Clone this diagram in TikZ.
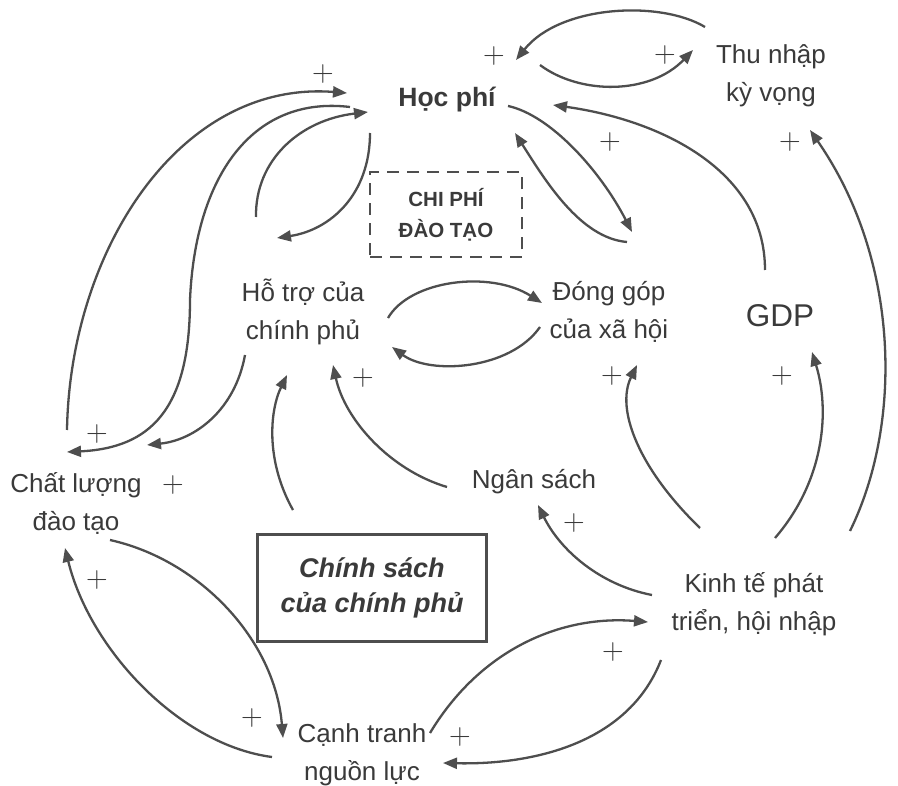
\documentclass[tikz,border=0pt]{standalone}
\usepackage{fontspec}
\setmainfont{Liberation Sans}
\newfontfamily\plusfont{Latin Modern Roman}
\usetikzlibrary{arrows.meta}
\definecolor{ink}{HTML}{3A3A3A}
\definecolor{wire}{HTML}{4E4E4E}
\begin{document}
\begin{tikzpicture}[x=1pt,y=-1pt,
  lbl/.style={text=ink, align=center, font=\fontsize{26}{38}\selectfont, inner sep=0pt},
  pl/.style={text=ink, inner sep=0pt, font=\plusfont\fontsize{30}{30}\selectfont},
  link/.style={draw=wire, line width=2.3pt, -{Triangle[length=14pt,width=11pt]}},
  dashbox/.style={draw=wire, line width=2pt, dash pattern=on 12pt off 8pt, minimum width=152pt, minimum height=85pt, inner sep=0pt},
  solidbox/.style={draw=wire, line width=2.4pt, minimum width=229pt, minimum height=107pt, inner sep=0pt}
]
\useasboundingbox[fill=white] (0,0) rectangle (898,786);

% nodes
\node[lbl, font=\bfseries\fontsize{26.5}{38}\selectfont] (hp) at (447,100) {Học phí};
\node[lbl] (thu) at (771,76) {Thu nhập\\kỳ vọng};
\node[dashbox, text=ink, align=center, font=\bfseries\fontsize{20.5}{31}\selectfont] (chi) at (446,215) {CHI PHÍ\\ĐÀO TẠO};
\node[lbl] (ho) at (303,312) {Hỗ trợ của\\chính phủ};
\node[lbl] (dg) at (609,312) {Đóng góp\\của xã hội};
\node[lbl, font=\fontsize{31.5}{38}\selectfont] (gdp) at (780,316) {GDP};
\node[lbl] (cl) at (76,503) {Chất lượng\\đào tạo};
\node[lbl] (ns) at (534,482) {Ngân sách};
\node[solidbox, text=ink, align=center, font=\bfseries\itshape\fontsize{27}{35}\selectfont] (cs) at (372,588) {Chính sách\\của chính phủ};
\node[lbl] (kt) at (754,604) {Kinh tế phát\\triển, hội nhập};
\node[lbl] (ct) at (362,755) {Cạnh tranh\\nguồn lực};

% plus signs
\node[pl] (p1) at (323,74) {+};
\node[pl] (p2) at (494,56) {+};
\node[pl] (p3) at (665,55) {+};
\node[pl] (p4) at (610,142) {+};
\node[pl] (p5) at (790,142) {+};
\node[pl] (p6) at (97,434) {+};
\node[pl] (p7) at (173,485) {+};
\node[pl] (p8) at (363,378) {+};
\node[pl] (p9) at (612,376) {+};
\node[pl] (p10) at (782,376) {+};
\node[pl] (p11) at (574,523) {+};
\node[pl] (p12) at (97,580) {+};
\node[pl] (p13) at (252,718) {+};
\node[pl] (p14) at (613,652) {+};
\node[pl] (p15) at (460,737) {+};

% connectors
\draw[link] ([shift={(-66,-49)}]thu.center) .. controls +(-45,-27) and +(44,-55) .. ([shift={(69,-40)}]hp.center);
\draw[link] ([shift={(93,-35)}]hp.center) .. controls +(40,30) and +(-43,45) .. ([shift={(-78,-26)}]thu.center);
\draw[link] ([shift={(-9,-73)}]cl.center) .. controls +(3,-180) and +(-167,-13) .. ([shift={(-100,-7)}]hp.center);
\draw[link] ([shift={(-97,7)}]hp.center) .. controls +(-100,-12) and +(5,-120) .. (190,300) .. controls +(0,110) and +(83,-4) .. ([shift={(-9,-51)}]cl.center);
\draw[link] ([shift={(-47,-95)}]ho.center) .. controls +(-1,-57) and +(-68,8) .. ([shift={(-79,12)}]hp.center);
\draw[link] ([shift={(-77,33)}]hp.center) .. controls +(0,62) and +(53,-8) .. ([shift={(-26,-74)}]ho.center);
\draw[link] ([shift={(61,6)}]hp.center) .. controls +(42,9) and +(-32,-62) .. ([shift={(23,-80)}]dg.center);
\draw[link] ([shift={(18,-70)}]dg.center) .. controls +(-47,-4) and +(30,47) .. ([shift={(68,33)}]hp.center);
\draw[link] ([shift={(-15,-46)}]gdp.center) .. controls +(0,-100) and +(107,15) .. ([shift={(106,5)}]hp.center);
\draw[link] ([shift={(96,-73)}]kt.center) .. controls +(53,-108) and +(90,130) .. ([shift={(39,54)}]thu.center);
\draw[link] ([shift={(85,6)}]ho.center) .. controls +(22,-38) and +(-52,-33) .. ([shift={(-67,-9)}]dg.center);
\draw[link] ([shift={(-69,15)}]dg.center) .. controls +(-30,43) and +(38,28) .. ([shift={(89,35)}]ho.center);
\draw[link] ([shift={(-58,43)}]ho.center) .. controls +(-10,55) and +(48,-5) .. ([shift={(71,-58)}]cl.center);
\draw[link] ([shift={(-79,-78)}]cs.center) .. controls +(-28,-50) and +(-17,35) .. ([shift={(-16,63)}]ho.center);
\draw[link] ([shift={(-87,5)}]ns.center) .. controls +(-57,-17) and +(12,55) .. ([shift={(30,53)}]ho.center);
\draw[link] ([shift={(-54,-76)}]kt.center) .. controls +(-60,-58) and +(-22,45) .. ([shift={(28,53)}]dg.center);
\draw[link] ([shift={(21,-66)}]kt.center) .. controls +(50,-58) and +(18,58) .. ([shift={(32,36)}]gdp.center);
\draw[link] ([shift={(-102,-9)}]kt.center) .. controls +(-52,-10) and +(22,45) .. ([shift={(4,23)}]ns.center);
\draw[link] ([shift={(34,37)}]cl.center) .. controls +(90,20) and +(-8,-98) .. ([shift={(-79,-17)}]ct.center);
\draw[link] ([shift={(-90,2)}]ct.center) .. controls +(-92,-12) and +(25,102) .. ([shift={(-11,45)}]cl.center);
\draw[link] ([shift={(68,-22)}]ct.center) .. controls +(50,-83) and +(-88,-7) .. ([shift={(-106,18)}]kt.center);
\draw[link] ([shift={(-93,56)}]kt.center) .. controls +(-31,80) and +(97,2) .. ([shift={(81,8)}]ct.center);
\end{tikzpicture}
\end{document}
